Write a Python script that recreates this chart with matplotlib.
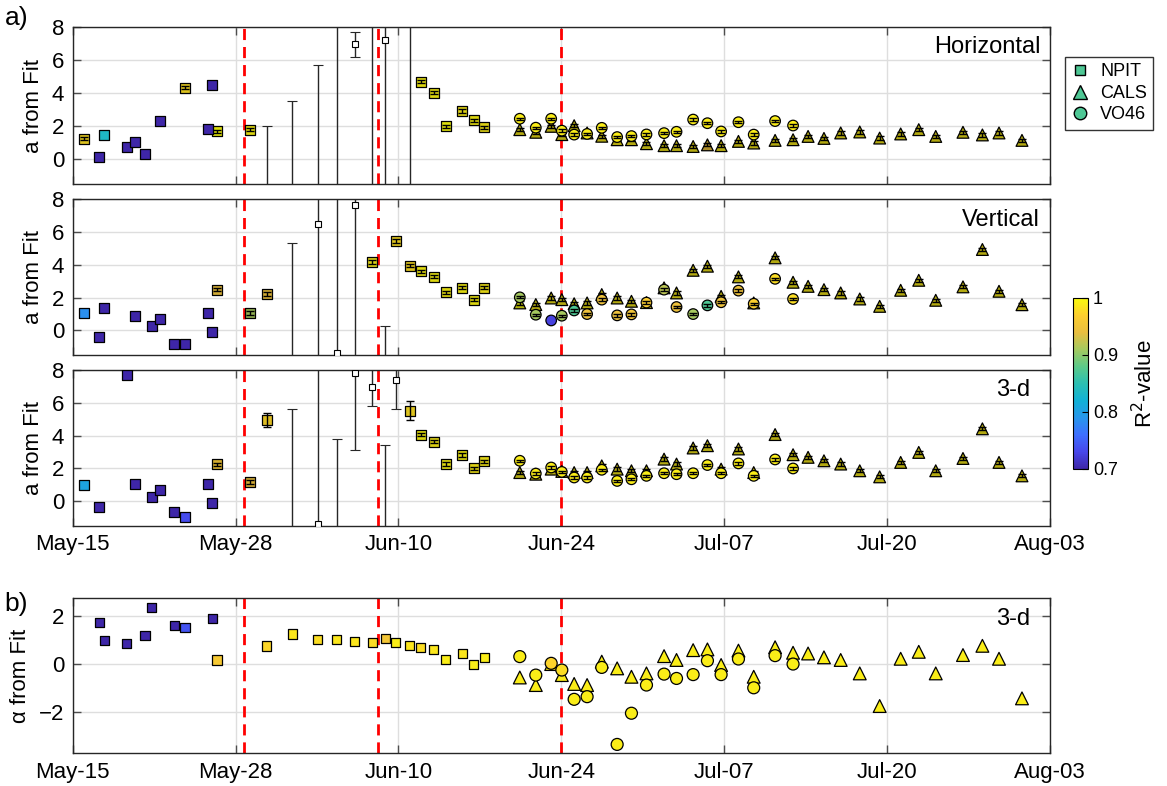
import numpy as np
import matplotlib
matplotlib.use('Agg')
import matplotlib.pyplot as plt
from matplotlib.colors import LinearSegmentedColormap, Normalize
from matplotlib.cm import ScalarMappable
from matplotlib.lines import Line2D

plt.rcParams['font.family'] = ['Liberation Sans', 'DejaVu Sans']
plt.rcParams['font.size'] = 16

# ---- data (x = days since May-15) ----
tick_labels = ['May-15', 'May-28', 'Jun-10', 'Jun-24', 'Jul-07', 'Jul-20', 'Aug-03']
event_days = [14.0, 25.0, 40.0]

# CALS (triangles) and VO46 (circles) epochs
cals_day = [36.60, 37.91, 39.17, 40.04, 41.05, 42.11, 43.31, 44.57, 45.74, 46.97, 48.41,
            49.43, 50.79, 51.96, 53.08, 54.50, 55.75, 57.50, 58.97, 60.20, 61.50, 62.87,
            64.43, 66.06, 67.78, 69.26, 70.65, 72.88, 74.47, 75.83, 77.71]
vo46_day = cals_day[:19]

# Horizontal
h_sq_day = [0.95, 2.18, 2.59, 4.42, 5.10, 5.92, 7.14, 9.21, 11.10, 11.42, 11.81, 14.51,
            28.48, 29.57, 30.52, 31.88, 32.84, 33.68]
h_sq_val = [1.24, 0.16, 1.44, 0.71, 1.04, 0.34, 2.34, 4.34, 1.85, 4.50, 1.69, 1.79,
            4.69, 4.03, 1.99, 2.91, 2.36, 1.93]
h_sq_r2 = [0.98, 0.70, 0.835, 0.70, 0.70, 0.70, 0.70, 0.98, 0.70, 0.70, 1.0, 0.995,
           0.995, 0.995, 1.0, 0.99, 0.995, 0.99]
h_bad_day = [15.87, 17.97, 20.10, 21.60, 23.08, 24.52, 25.60, 27.60]
h_bad_val = [-5, -5, -5, -5, 6.99, -5, 7.24, 12]
h_bad_lo = [-20, -20, -20, -20, 6.20, -20, -20, -20]
h_bad_hi = [2.00, 3.55, 5.73, 20, 7.70, 20, 20, 20]
h_tri = [1.79, 1.63, 1.99, 1.49, 2.03, 1.59, 1.39, 1.18, 1.18, 0.94, 0.82, 0.82, 0.77, 0.87,
         0.82, 1.08, 0.98, 1.14, 1.18, 1.38, 1.26, 1.59, 1.65, 1.28, 1.53, 1.79, 1.38, 1.63,
         1.47, 1.59, 1.14]
h_tri_r2 = [0.99] * 13 + [0.95] + [0.99] * 17
h_cir = [2.45, 1.91, 2.45, 1.73, 1.49, 1.53, 1.90, 1.34, 1.40, 1.50, 1.58, 1.66, 2.40, 2.18,
         1.68, 2.24, 1.49, 2.31, 2.04]
h_cir_r2 = [0.99] * 19

# Vertical
v_sq_day = [0.95, 2.18, 2.59, 5.10, 6.46, 7.14, 8.31, 9.19, 11.10, 11.42, 11.81, 14.51, 15.87,
            24.52, 26.43, 27.60, 28.48, 29.57, 30.52, 31.88, 32.84, 33.68]
v_sq_val = [1.06, -0.39, 1.39, 0.86, 0.25, 0.70, -0.81, -0.83, 1.06, -0.12, 2.49, 1.06, 2.23,
            4.17, 5.45, 3.96, 3.61, 3.27, 2.33, 2.60, 1.88, 2.60]
v_sq_r2 = [0.785, 0.70, 0.70, 0.70, 0.70, 0.70, 0.70, 0.70, 0.70, 0.70, 0.945, 0.91, 0.945,
           0.99, 0.98, 0.98, 0.995, 0.995, 0.995, 0.995, 0.995, 0.99]
v_bad_day = [17.97, 20.05, 21.60, 23.08, 25.60]
v_bad_val = [-5, 6.49, -1.39, 7.68, -5]
v_bad_lo = [-20, -20, -20, -20, -20]
v_bad_hi = [5.33, 20, 20, 20, 0.25]
v_tri = [1.68, 1.58, 1.98, 1.88, 1.63, 1.68, 2.19, 1.98, 1.78, 1.70, 2.60, 2.29, 3.67, 3.92,
         2.08, 3.27, 1.68, 4.43, 2.94, 2.69, 2.49, 2.29, 1.92, 1.47, 2.45, 3.06, 1.84, 2.66,
         4.94, 2.39, 1.57]
v_tri_r2 = [1.0] + [0.99] * 30
v_cir = [2.02, 0.96, 0.61, 0.90, 1.22, 1.00, 1.88, 0.92, 0.98, 1.70, 2.49, 1.43, 1.00, 1.53,
         1.72, 2.43, 1.63, 3.15, 1.92]
v_cir_r2 = [0.91, 0.91, 0.725, 0.91, 0.87, 0.945, 0.945, 0.945, 0.95, 0.965, 0.92, 0.945,
            0.91, 0.87, 0.945, 0.945, 0.97, 0.98, 0.98]

# 3-d
d_sq_day = [0.95, 2.18, 4.42, 5.10, 6.46, 7.14, 8.31, 9.19, 11.10, 11.42, 11.81, 14.51, 15.87,
            27.60, 28.48, 29.57, 30.52, 31.88, 32.84, 33.68]
d_sq_val = [1.00, -0.37, 7.69, 1.07, 0.25, 0.70, -0.68, -0.96, 1.02, -0.14, 2.24, 1.17, 4.97,
            5.50, 4.06, 3.63, 2.26, 2.81, 1.99, 2.42]
d_sq_r2 = [0.805, 0.70, 0.70, 0.70, 0.70, 0.70, 0.70, 0.735, 0.70, 0.70, 0.955, 0.945, 0.975,
           0.98, 0.995, 0.99, 0.995, 0.995, 0.99, 0.99]
d_sq_err = [0.1] * 12 + [0.42, 0.58] + [0.1] * 6
d_bad_day = [17.97, 20.05, 21.60, 23.08, 24.52, 25.60, 26.43]
d_bad_val = [-5, -1.40, -5, 7.79, 6.97, -5, 7.38]
d_bad_lo = [-20, -20, -20, 3.12, 5.78, -20, 5.64]
d_bad_hi = [5.64, 20, 3.79, 20, 20, 3.45, 20]
d_tri = [1.74, 1.64, 1.95, 1.81, 1.74, 1.74, 2.15, 1.95, 1.85, 1.85, 2.56, 2.26, 3.24, 3.38,
         1.95, 3.18, 1.74, 4.06, 2.83, 2.67, 2.46, 2.26, 1.85, 1.48, 2.36, 2.97, 1.85, 2.60,
         4.41, 2.36, 1.54]
d_tri_r2 = [0.99] * 31
d_cir = [2.46, 1.68, 2.05, 1.78, 1.44, 1.44, 1.91, 1.23, 1.33, 1.54, 1.70, 1.64, 1.70, 2.20,
         1.70, 2.30, 1.54, 2.54, 1.99]
d_cir_r2 = [0.99] * 19

# b) alpha, 3-d
b_sq_day = [2.18, 2.59, 4.42, 5.92, 6.46, 8.31, 9.19, 11.42, 11.81, 15.87, 17.97, 20.05, 21.60,
            23.08, 24.52, 25.60, 26.43, 27.60, 28.48, 29.55, 30.52, 31.88, 32.84, 33.68]
b_sq_val = [1.74, 0.97, 0.86, 1.18, 2.36, 1.61, 1.53, 1.89, 0.17, 0.75, 1.25, 1.04, 1.03, 0.93,
            0.89, 1.07, 0.89, 0.79, 0.68, 0.61, 0.19, 0.44, -0.01, 0.28]
b_sq_r2 = [0.70, 0.70, 0.70, 0.70, 0.70, 0.70, 0.74, 0.70, 0.96, 0.975, 0.985, 0.98, 0.985,
           0.985, 0.98, 0.955, 0.99, 0.985, 0.98, 0.985, 0.99, 0.985, 0.99, 0.99]
b_tri = [-0.56, -0.875, 0.0, -0.46, -0.83, -0.875, 0.10, -0.18, -0.53, -0.39, 0.33, 0.17, 0.58,
         0.61, -0.04, 0.56, -0.53, 0.70, 0.47, 0.44, 0.28, 0.17, -0.39, -1.75, 0.22, 0.51,
         -0.39, 0.375, 0.76, 0.22, -1.43]
b_tri_r2 = [0.99] * 31
b_cir = [0.31, -0.46, 0.03, -0.25, -1.47, -1.36, -0.14, -3.35, -2.05, -0.875, -0.42, -0.60,
         -0.44, 0.14, -0.44, 0.21, -0.99, 0.35, 0.00]
b_cir_r2 = [0.99, 0.99, 0.972, 0.98] + [0.99] * 15

# ---- styling ----
parula = LinearSegmentedColormap.from_list('parula', [
    (0.00, (0.2422, 0.1504, 0.6603)),
    (0.10, (0.2803, 0.2782, 0.9221)),
    (0.20, (0.2440, 0.4358, 0.9988)),
    (0.30, (0.1540, 0.5902, 0.9218)),
    (0.40, (0.0689, 0.6948, 0.8394)),
    (0.50, (0.1717, 0.7493, 0.6984)),
    (0.60, (0.3651, 0.7920, 0.5349)),
    (0.70, (0.6473, 0.7905, 0.3734)),
    (0.80, (0.9139, 0.7454, 0.2483)),
    (0.90, (0.9892, 0.8087, 0.1828)),
    (1.00, (0.9763, 0.9831, 0.0538))])
norm = Normalize(0.7, 1.0)


def faces(r2, shade=1.0):
    return [tuple(np.array(parula(norm(r))[:3]) * shade) for r in r2]


def points(ax, x, y, r2, marker, ms, shade=1.0, err=None, z=3):
    ax.scatter(x, y, s=ms ** 2, marker=marker, c=faces(r2, shade), edgecolors='k',
               linewidths=0.9, zorder=z)
    if err is not None:
        x = np.asarray(x)
        y = np.asarray(y)
        keep = np.asarray(r2) >= 0.86
        e = np.broadcast_to(np.asarray(err, dtype=float), y.shape)
        ax.errorbar(x[keep], y[keep], yerr=e[keep], fmt='none', ecolor='k', elinewidth=1,
                    capsize=3.2, capthick=1, zorder=z + 0.5)


def bad_points(ax, x, y, lo, hi):
    x = np.asarray(x)
    y = np.asarray(y, dtype=float)
    yerr = [y - np.asarray(lo), np.asarray(hi) - y]
    ax.errorbar(x, y, yerr=yerr, fmt='s', ms=4, mfc='white', mec='k', mew=0.8,
                ecolor='0.15', elinewidth=1, capsize=3.5, capthick=1, zorder=2.6)


def style(ax, ylim, yticks, show_x):
    ax.set_xlim(0, 80)
    ax.set_ylim(*ylim)
    ax.set_xticks(np.linspace(0, 80, 7))
    ax.set_xticklabels(tick_labels if show_x else [])
    ax.set_yticks(yticks)
    ax.grid(True, color='0.87', lw=1)
    ax.set_axisbelow(True)
    ax.tick_params(direction='in', top=True, right=True, length=6, width=1, color='0.3',
                   labelsize=16, pad=6)
    for s in ax.spines.values():
        s.set_color('0.15')
        s.set_linewidth(1)
    for d in event_days:
        ax.axvline(d, color='red', ls=(0, (4, 2.5)), lw=2, zorder=2.5)


fig = plt.figure(figsize=(11.67, 7.86), dpi=100)
left, width = 0.0623, 0.8374
ax_h = fig.add_axes([left, 0.7659, width, 0.1997])
ax_v = fig.add_axes([left, 0.5483, width, 0.1981])
ax_d = fig.add_axes([left, 0.3312, width, 0.1981])
ax_b = fig.add_axes([left, 0.0416, width, 0.1972])

panels = [
    (ax_h, 'Horizontal', h_sq_day, h_sq_val, h_sq_r2, 0.1, h_bad_day, h_bad_val, h_bad_lo,
     h_bad_hi, h_tri, h_tri_r2, h_cir, h_cir_r2, 0.99),
    (ax_v, 'Vertical', v_sq_day, v_sq_val, v_sq_r2, 0.1, v_bad_day, v_bad_val, v_bad_lo,
     v_bad_hi, v_tri, v_tri_r2, v_cir, v_cir_r2, 0.99),
    (ax_d, '3-d', d_sq_day, d_sq_val, d_sq_r2, d_sq_err, d_bad_day, d_bad_val, d_bad_lo,
     d_bad_hi, d_tri, d_tri_r2, d_cir, d_cir_r2, 0.98),
]
for (ax, name, sqd, sqv, sqr, sqe, bd, bv, blo, bhi, tri, trir, cir, cirr, tx) in panels:
    style(ax, (-1.5, 8), [0, 2, 4, 6, 8], ax is ax_d)
    bad_points(ax, bd, bv, blo, bhi)
    points(ax, cals_day, tri, trir, '^', 8.5, shade=0.72, err=0.1, z=3)
    points(ax, vo46_day, cir, cirr, 'o', 7.6, shade=1.0, err=0.07, z=4)
    sq_shade = [0.88 if r >= 0.86 else 1.0 for r in sqr]
    for sh in (0.88, 1.0):
        idx = [i for i, s in enumerate(sq_shade) if s == sh]
        e = np.broadcast_to(np.asarray(sqe, dtype=float), (len(sqd),))
        points(ax, np.array(sqd)[idx], np.array(sqv)[idx], np.array(sqr)[idx], 's', 7.2,
               shade=sh, err=e[idx], z=5)
    ax.set_ylabel('a from Fit', fontsize=16, labelpad=6)
    ax.text(tx, 0.94, name, transform=ax.transAxes, ha='right', va='top', fontsize=17)

style(ax_b, (-3.72, 2.74), [-2, 0, 2], True)
points(ax_b, cals_day, b_tri, b_tri_r2, '^', 9.2, z=3)
points(ax_b, vo46_day, b_cir, b_cir_r2, 'o', 8.6, z=4)
points(ax_b, b_sq_day, b_sq_val, b_sq_r2, 's', 6.6, z=5)
ax_b.set_ylabel('\u03b1 from Fit', fontsize=16, labelpad=6)
ax_b.text(0.98, 0.94, '3-d', transform=ax_b.transAxes, ha='right', va='top', fontsize=17)

fig.text(0.004, 0.977, 'a)', fontsize=19, va='center')
fig.text(0.004, 0.231, 'b)', fontsize=19, va='center')

# legend
leg_c = parula(norm(0.87))
handles = [Line2D([], [], ls='none', marker='s', ms=7, mfc=leg_c, mec='k', label='NPIT'),
           Line2D([], [], ls='none', marker='^', ms=10, mfc=leg_c, mec='k', label='CALS'),
           Line2D([], [], ls='none', marker='o', ms=9, mfc=leg_c, mec='k', label='VO46')]
fig.legend(handles=handles, loc='upper left', bbox_to_anchor=(1065 / 1167, 1 - 57 / 786),
           fontsize=13, frameon=True, fancybox=False, edgecolor='k', handlelength=1.0,
           handletextpad=0.6, labelspacing=0.25, borderpad=0.35, borderaxespad=0)

# colorbar
cax = fig.add_axes([1073 / 1167, 1 - 469 / 786, 15 / 1167, 171 / 786])
cb = fig.colorbar(ScalarMappable(norm=norm, cmap=parula), cax=cax, ticks=[0.7, 0.8, 0.9, 1.0])
cb.set_ticklabels(['0.7', '0.8', '0.9', '1'])
cax.tick_params(direction='in', length=4, labelsize=13)
cb.outline.set_edgecolor('k')
cb.set_label('R$^2$-value', fontsize=16, labelpad=10)

fig.savefig('out.png', dpi=100)
